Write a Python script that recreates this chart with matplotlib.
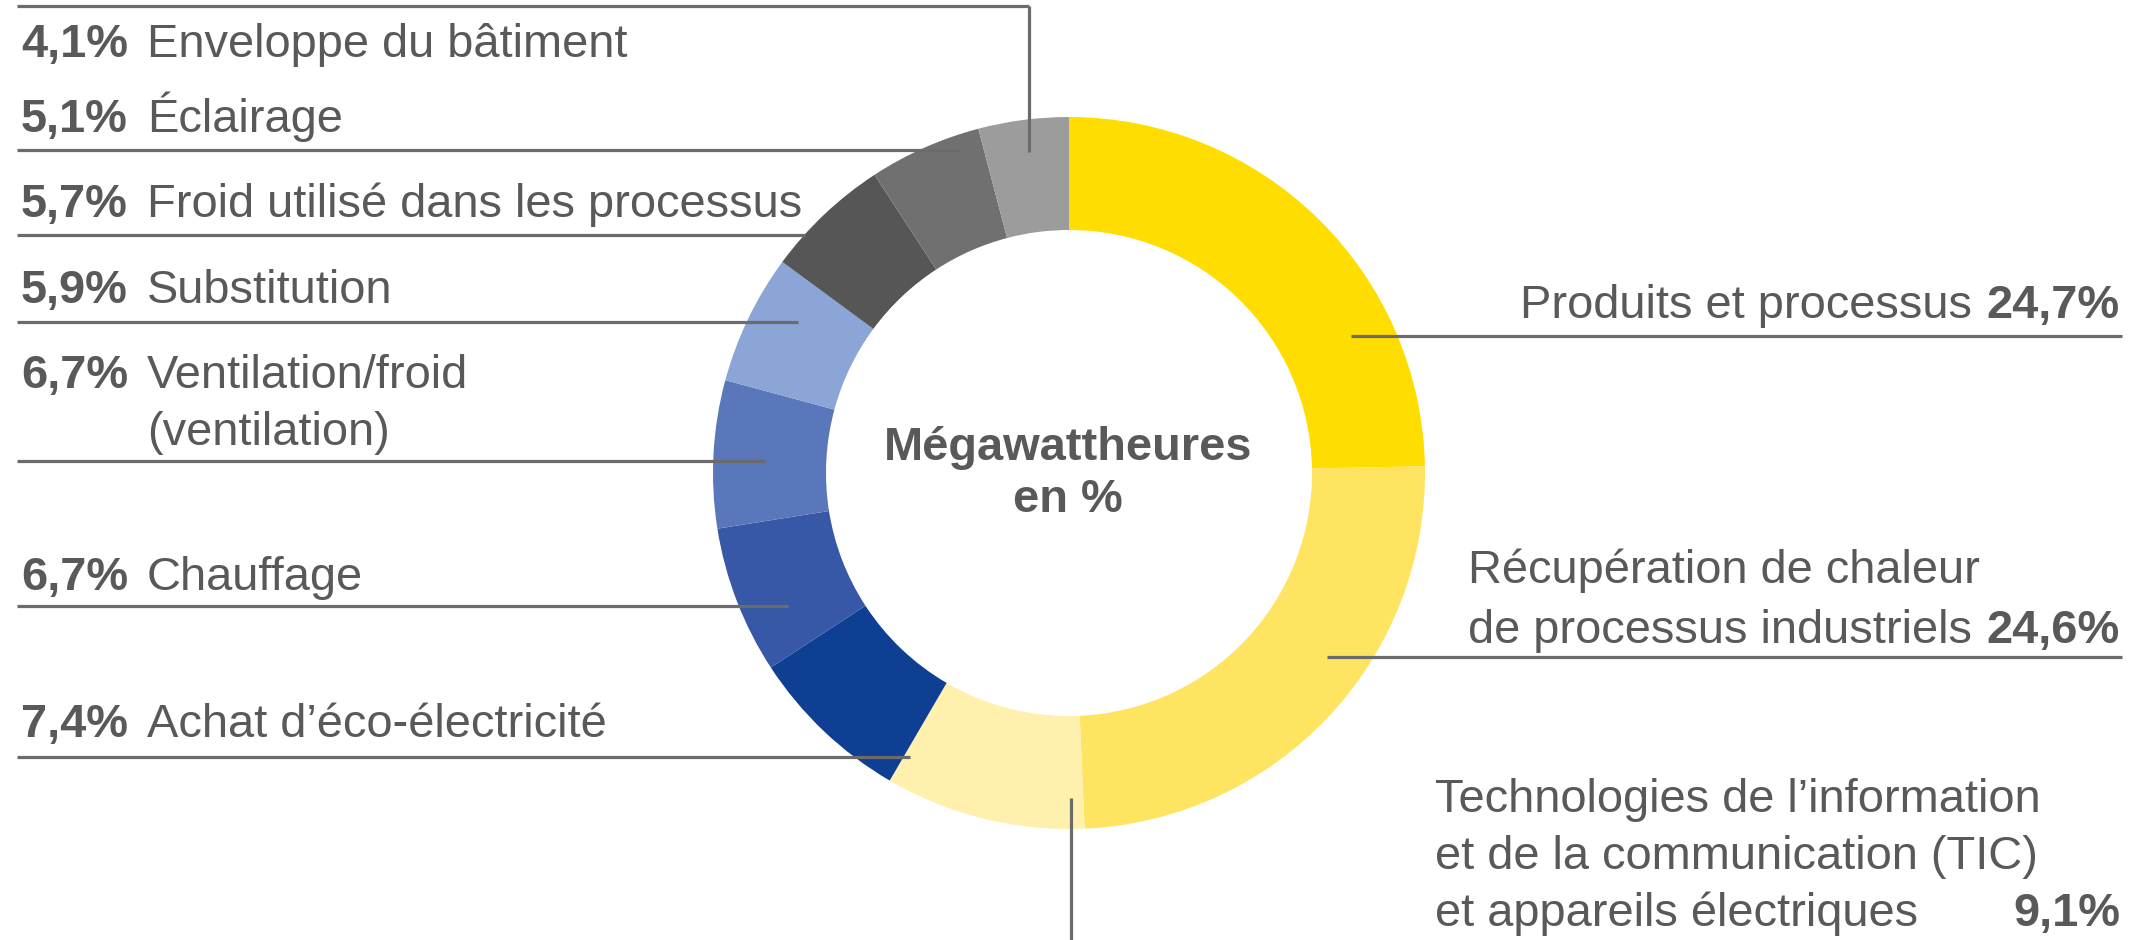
import matplotlib.pyplot as plt

# data (clockwise from 12 o'clock)
categories = ['Produits et processus',
              'Récupération de chaleur\nde processus industriels',
              'Technologies de l’information\net de la communication (TIC)\net appareils électriques',
              'Achat d’éco-électricité',
              'Chauffage',
              'Ventilation/froid\n(ventilation)',
              'Substitution',
              'Froid utilisé dans les processus',
              'Éclairage',
              'Enveloppe du bâtiment']
shares = [24.7, 24.6, 9.1, 7.4, 6.7, 6.7, 5.9, 5.7, 5.1, 4.1]
colors = ['#FFDD00', '#FFE462', '#FFF0AE', '#0E3F92', '#3658A6', '#5A77BC',
          '#8BA5D6', '#565656', '#707070', '#9C9C9C']
center_label = ['Mégawattheures', 'en %']

W, H = 2141, 940
TXT = '#595959'
LINE = '#6b6b6b'
FS = 33.8
plt.rcParams['font.family'] = ['Liberation Sans', 'DejaVu Sans']

fig = plt.figure(figsize=(W / 100, H / 100), dpi=100)
ax = fig.add_axes([0, 0, 1, 1])

def py(y):
    # pixel row (from top) -> data y
    return H - y

def pct(v):
    return f'{v:.1f}%'.replace('.', ',')

ax.pie(shares, colors=colors, startangle=90, counterclock=False,
       radius=356, center=(1069, py(473)),
       wedgeprops=dict(width=113, linewidth=0))
ax.set_xlim(0, W)
ax.set_ylim(0, H)
ax.set_aspect('equal')
ax.axis('off')

# center label
ax.text(1068, py(460), center_label[0], ha='center', va='baseline',
        fontsize=FS, fontweight='bold', color=TXT)
ax.text(1068, py(512), center_label[1], ha='center', va='baseline',
        fontsize=FS, fontweight='bold', color=TXT)

lw = 2.3
# left labels: index -> (first baseline, leader y, leader end x)
left_layout = {9: (57, 6, 1029), 8: (132, 150, 960), 7: (217, 235, 805),
               6: (303, 322, 798), 5: (388, 461, 765), 4: (590, 606, 788),
               3: (737, 757, 910)}
for i, (base, ly, lx) in left_layout.items():
    ax.text(21, py(base), pct(shares[i]), ha='left', va='baseline',
            fontsize=FS, fontweight='bold', color=TXT)
    for k, line in enumerate(categories[i].split('\n')):
        ax.text(147, py(base + k * 57), line, ha='left', va='baseline',
                fontsize=FS, color=TXT)
    ax.plot([17, lx], [py(ly), py(ly)], color=LINE, lw=lw,
            solid_capstyle='butt')
# enveloppe leader goes down into its wedge
ax.plot([1029, 1029], [py(6), py(152)], color=LINE, lw=lw,
        solid_capstyle='butt')

fig.canvas.draw()
rend = fig.canvas.get_renderer()

# right labels: index -> (first baseline, line gap, leader y, leader start x)
right_layout = {0: (318, 60, 336, 1351), 1: (583, 60, 657, 1327)}
for i, (base, gap, ly, lx) in right_layout.items():
    lines = categories[i].split('\n')
    last = base + gap * (len(lines) - 1)
    tp = ax.text(2120, py(last), pct(shares[i]), ha='right', va='baseline',
                 fontsize=FS, fontweight='bold', color=TXT)
    x_end = tp.get_window_extent(rend).x0 - 15
    tl = ax.text(x_end, py(last), lines[-1], ha='right', va='baseline',
                 fontsize=FS, color=TXT)
    x_left = tl.get_window_extent(rend).x0
    for k, line in enumerate(lines[:-1]):
        ax.text(x_left, py(base + k * gap), line, ha='left', va='baseline',
                fontsize=FS, color=TXT)
    ax.plot([lx, 2122], [py(ly), py(ly)], color=LINE, lw=lw,
            solid_capstyle='butt')

# TIC label below right
tic_lines = categories[2].split('\n')
for k, line in enumerate(tic_lines):
    ax.text(1435, py(812 + k * 57), line, ha='left', va='baseline',
            fontsize=FS, color=TXT)
ax.text(2120, py(812 + 2 * 57), pct(shares[2]), ha='right', va='baseline',
        fontsize=FS, fontweight='bold', color=TXT)
ax.plot([1071, 1071], [py(798), py(940)], color=LINE, lw=lw,
        solid_capstyle='butt')

fig.savefig('out.png', dpi=100, facecolor='white')
